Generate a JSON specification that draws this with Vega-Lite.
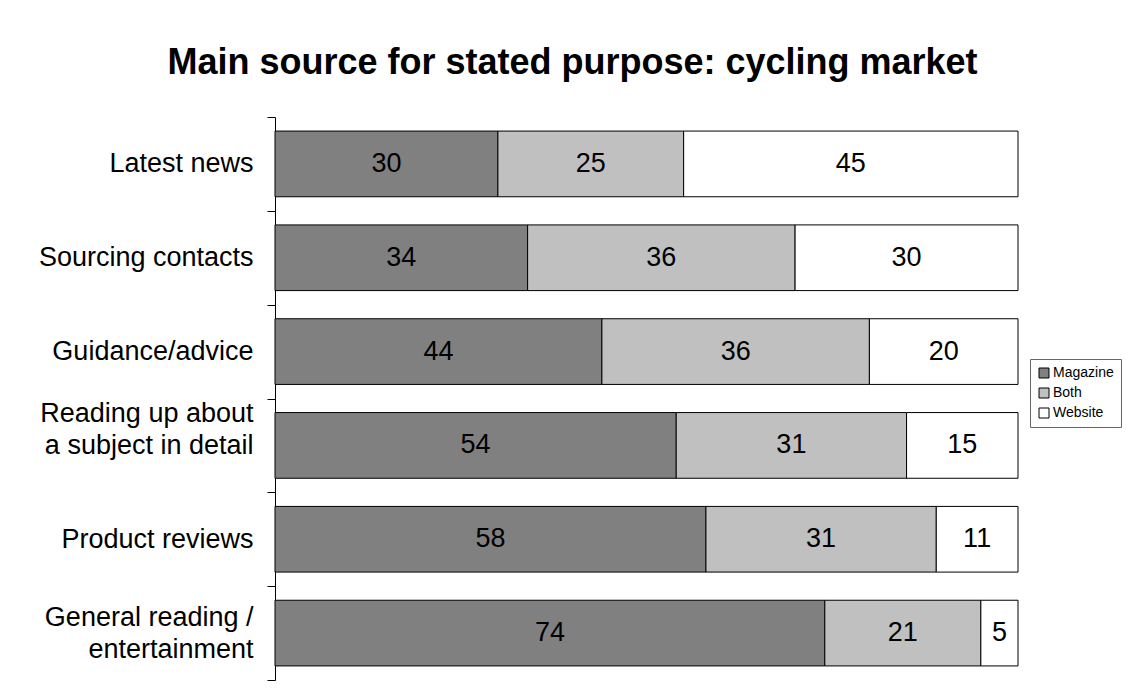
{
  "$schema": "https://vega.github.io/schema/vega-lite/v6.json",
  "width": 743,
  "height": 563,
  "autosize": {"type": "none"},
  "padding": {"left": 275, "top": 117, "right": 108, "bottom": 15},
  "background": "white",
  "title": {
    "text": "Main source for stated purpose: cycling market",
    "font": "Liberation Sans",
    "fontSize": 36,
    "fontWeight": "bold",
    "color": "black",
    "anchor": "middle",
    "frame": "group",
    "dx": -74,
    "baseline": "alphabetic",
    "offset": -7
  },
  "data": {
    "values": [
      {"purpose": "Latest news", "source": "Magazine", "value": 30},
      {"purpose": "Latest news", "source": "Both", "value": 25},
      {"purpose": "Latest news", "source": "Website", "value": 45},
      {"purpose": "Sourcing contacts", "source": "Magazine", "value": 34},
      {"purpose": "Sourcing contacts", "source": "Both", "value": 36},
      {"purpose": "Sourcing contacts", "source": "Website", "value": 30},
      {"purpose": "Guidance/advice", "source": "Magazine", "value": 44},
      {"purpose": "Guidance/advice", "source": "Both", "value": 36},
      {"purpose": "Guidance/advice", "source": "Website", "value": 20},
      {"purpose": "Reading up about a subject in detail", "source": "Magazine", "value": 54},
      {"purpose": "Reading up about a subject in detail", "source": "Both", "value": 31},
      {"purpose": "Reading up about a subject in detail", "source": "Website", "value": 15},
      {"purpose": "Product reviews", "source": "Magazine", "value": 58},
      {"purpose": "Product reviews", "source": "Both", "value": 31},
      {"purpose": "Product reviews", "source": "Website", "value": 11},
      {"purpose": "General reading / entertainment", "source": "Magazine", "value": 74},
      {"purpose": "General reading / entertainment", "source": "Both", "value": 21},
      {"purpose": "General reading / entertainment", "source": "Website", "value": 5}
    ]
  },
  "transform": [
    {"calculate": "indexof(['Magazine','Both','Website'], datum.source)", "as": "ord"},
    {"stack": "value", "groupby": ["purpose"], "sort": [{"field": "ord", "order": "ascending"}], "as": ["x0", "x1"]},
    {"calculate": "(datum.x0 + datum.x1) / 2", "as": "xmid"}
  ],
  "encoding": {
    "y": {
      "field": "purpose",
      "type": "nominal",
      "sort": null,
      "title": null,
      "scale": {"paddingInner": 0, "paddingOuter": 0},
      "axis": {
        "domainColor": "black",
        "domainWidth": 1,
        "tickColor": "black",
        "tickSize": 8,
        "tickBand": "extent",
        "labelFont": "Liberation Sans",
        "labelFontSize": 27,
        "labelColor": "black",
        "labelPadding": 14,
        "labelLineHeight": 32,
        "labelLimit": 400,
        "labelOffset": {
          "condition": [
            {"test": "datum.value == 'Reading up about a subject in detail'", "value": -32},
            {"test": "datum.value == 'General reading / entertainment'", "value": -16}
          ],
          "value": 0
        },
        "labelExpr": "datum.value == 'Reading up about a subject in detail' ? ['Reading up about', 'a subject in detail'] : datum.value == 'General reading / entertainment' ? ['General reading /', 'entertainment'] : datum.value"
      }
    }
  },
  "layer": [
    {
      "mark": {"type": "bar", "stroke": "black", "strokeWidth": 1, "height": {"band": 0.7}},
      "encoding": {
        "x": {"field": "x0", "type": "quantitative", "scale": {"domain": [0, 100], "nice": false}, "axis": null},
        "x2": {"field": "x1"},
        "color": {
          "field": "source",
          "type": "nominal",
          "scale": {"domain": ["Magazine", "Both", "Website"], "range": ["#808080", "#c0c0c0", "#ffffff"]},
          "legend": {
            "title": null,
            "orient": "none",
            "legendX": 755,
            "legendY": 242,
            "symbolType": "square",
            "symbolSize": 100,
            "symbolStrokeColor": "black",
            "symbolStrokeWidth": 1,
            "symbolOpacity": 1,
            "labelFont": "Liberation Sans",
            "labelFontSize": 14,
            "labelColor": "black",
            "labelOffset": 2,
            "rowPadding": 6,
            "padding": 7,
            "strokeColor": "#666666",
            "fillColor": "white"
          }
        }
      }
    },
    {
      "mark": {"type": "text", "font": "Liberation Sans", "fontSize": 27, "color": "black", "baseline": "middle", "align": "center"},
      "encoding": {
        "x": {"field": "xmid", "type": "quantitative"},
        "text": {"field": "value", "type": "quantitative"}
      }
    }
  ],
  "config": {
    "view": {"stroke": null},
    "font": "Liberation Sans"
  }
}
